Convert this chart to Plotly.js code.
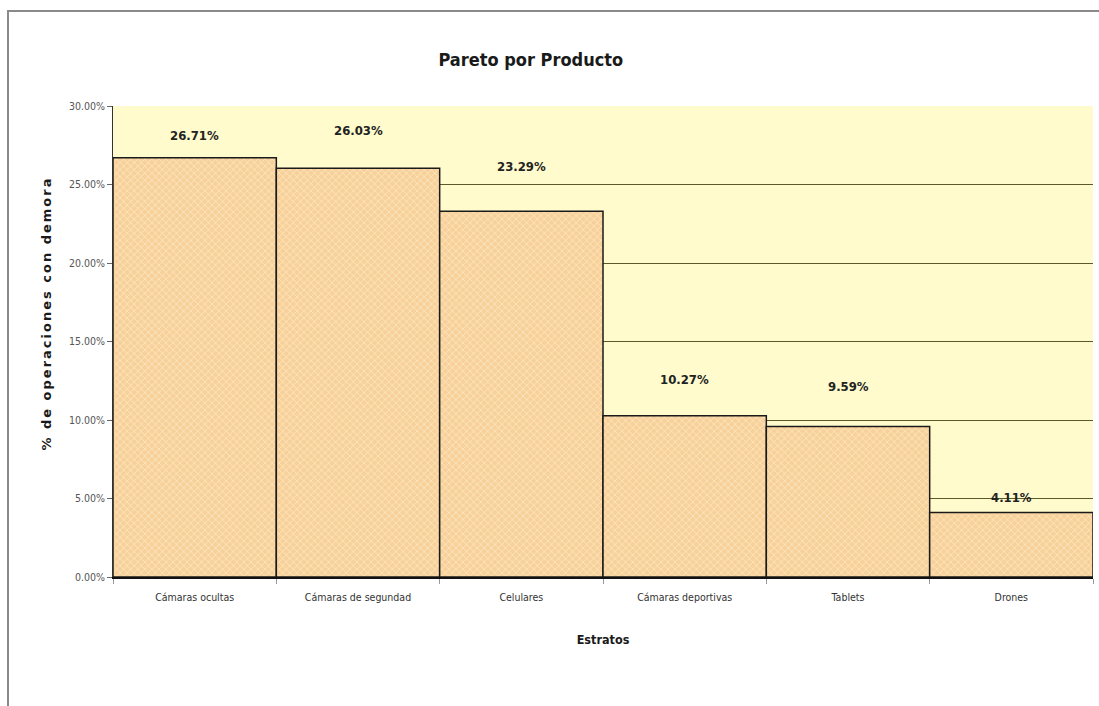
<!DOCTYPE html>
<html>
<head>
<meta charset="utf-8">
<script src="https://cdn.plot.ly/plotly-3.0.1.min.js"></script>
<style>
  html, body { margin: 0; padding: 0; background: #ffffff; }
  #wrap { position: relative; width: 1099px; height: 706px; }
  #chart { width: 1099px; height: 706px; }
  #frame { position: absolute; left: 7px; top: 10px; right: 0; bottom: 0;
           border-top: 2px solid #8a8a8a; border-left: 2px solid #8a8a8a; pointer-events: none; }
  .spaced text, text.spaced { letter-spacing: 2px; }
</style>
</head>
<body>
<div id="wrap">
  <div id="chart"></div>
  <div id="frame"></div>
</div>
<script>
// Product strata and share of delayed operations (%)
const categories = ["Cámaras ocultas", "Cámaras de segundad", "Celulares", "Cámaras deportivas", "Tablets", "Drones"];
const shares = [26.71, 26.03, 23.29, 10.27, 9.59, 4.11];
const yTicks = [0, 5, 10, 15, 20, 25, 30];
const yTickLabels = ["0.00%", "5.00%", "10.00%", "15.00%", "20.00%", "25.00%", "30.00%"];
// vertical lift of each value label above its bar top, in pixels
const labelLift = [22, 38, 45, 36, 40, 15];

const narrow = "DejaVu Sans Condensed, Liberation Sans Narrow, Liberation Sans, sans-serif";

const trace = {
  type: "bar",
  x: categories,
  y: shares,
  marker: {
    color: "#f9d6a2",
    line: { color: "#1a1a1a", width: 1.5 },
    pattern: { shape: "x", size: 5, solidity: 0.25, fgcolor: "#fdebc9", bgcolor: "#f8d19a", fillmode: "replace" }
  },
  hoverinfo: "x+y"
};

const valueLabels = categories.map((c, i) => ({
  x: c, y: shares[i], xref: "x", yref: "y",
  text: "<b>" + shares[i].toFixed(2) + "%</b>",
  showarrow: false, yanchor: "middle", yshift: labelLift[i],
  font: { family: narrow, size: 13, color: "#222222" }
}));

const yTitle = {
  xref: "paper", yref: "paper", x: -0.068, y: 0.56,
  xanchor: "center", yanchor: "middle", textangle: -90, showarrow: false,
  text: "<b>% de operaciones con demora</b>",
  font: { family: "DejaVu Sans, sans-serif", size: 13, color: "#1a1a1a" }
};

const layout = {
  width: 1099,
  height: 706,
  margin: { l: 113, r: 6, t: 106, b: 129 },
  paper_bgcolor: "#ffffff",
  plot_bgcolor: "#fffbcc",
  bargap: 0,
  showlegend: false,
  title: {
    text: "<b>Pareto por Producto</b>",
    font: { family: narrow, size: 18, color: "#1a1a1a" },
    x: 0.483, xanchor: "center", y: 0.915, yanchor: "middle"
  },
  annotations: valueLabels.concat([yTitle]),
  xaxis: {
    type: "category",
    showline: true, linecolor: "#111111", linewidth: 2,
    ticks: "outside", tickson: "boundaries", ticklen: 5, tickcolor: "#999999",
    ticklabelstandoff: 9,
    tickfont: { family: narrow, size: 10.5, color: "#333333" },
    showgrid: false,
    title: { text: "<b>Estratos</b>", font: { family: narrow, size: 12.5, color: "#1a1a1a" }, standoff: 34 }
  },
  yaxis: {
    range: [0, 30],
    tickvals: yTicks,
    ticktext: yTickLabels,
    showline: true, linecolor: "#333333", linewidth: 1,
    ticks: "outside", ticklen: 5, tickcolor: "#666666",
    tickfont: { family: narrow, size: 10.5, color: "#555555" },
    showgrid: true, gridcolor: "#5a5a2a", gridwidth: 1,
    zeroline: false
  }
};

Plotly.newPlot("chart", [trace], layout, { displayModeBar: false, staticPlot: true }).then(gd => {
  // widen the letter spacing of the rotated axis caption
  const anns = gd.querySelectorAll(".annotation");
  const cap = anns[anns.length - 1];
  if (cap) cap.classList.add("spaced");
});
</script>
</body>
</html>
